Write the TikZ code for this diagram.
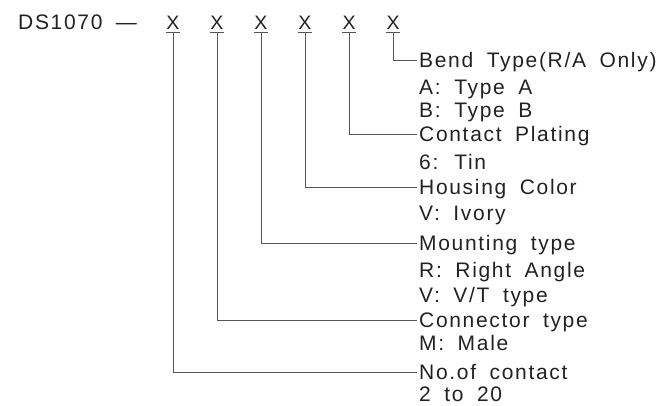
\documentclass[tikz,border=0pt]{standalone}
\usepackage{fontspec}
\newfontfamily\cadfont[LetterSpace=8,WordSpace=1.8]{Liberation Sans}
\newfontfamily\markfont{Liberation Sans}
\usetikzlibrary{positioning}
\definecolor{leadgray}{HTML}{555555}
\definecolor{inkgray}{HTML}{222222}

\begin{document}
\begin{tikzpicture}[x=1pt, y=-1pt,
  title/.style={anchor=west, inner xsep=2pt, inner ysep=0pt, text height=15pt, text depth=0pt, font=\cadfont\fontsize{21}{22}\selectfont, text=inkgray},
  opt/.style={title},
  digit/.style={inner xsep=0.5pt, inner ysep=2.5pt, text height=15pt, text depth=0pt, font=\markfont\fontsize{19.5}{20}\selectfont, text=inkgray},
  lead/.style={draw=leadgray, line width=0.9pt}
]
  \useasboundingbox (0,0) rectangle (664,406);

  % Part number
  \node[title, inner xsep=0pt] (part) at (18,22) {DS1070 —};

  % Code positions
  \node[digit] (contacts) at (173,22) {X};
  \node[digit] (conn) at (217,22) {X};
  \node[digit] (mount) at (261,22) {X};
  \node[digit] (housing) at (305,22) {X};
  \node[digit] (plating) at (349,22) {X};
  \node[digit] (bend) at (393,22) {X};

  % Descriptions
  \node[title] (bendT) at (417,60) {Bend Type(R/A Only)};
  \node[opt] (bendA) at (417,87) {A: Type A};
  \node[opt] (bendB) at (417,110) {B: Type B};
  \node[title] (platingT) at (417,134) {Contact Plating};
  \node[opt] (platingA) at (417,162) {6: Tin};
  \node[title] (housingT) at (417,187) {Housing Color};
  \node[opt] (housingA) at (417,213) {V: Ivory};
  \node[title] (mountT) at (417,243) {Mounting type};
  \node[opt] (mountA) at (417,270) {R: Right Angle};
  \node[opt] (mountB) at (417,295) {V: V/T type};
  \node[title] (connT) at (417,320) {Connector type};
  \node[opt] (connA) at (417,343) {M: Male};
  \node[title] (contactsT) at (417,372) {No.of contact};
  \node[opt] (contactsA) at (417,394) {2 to 20};

  % Underlines
  \draw[lead] (contacts.south west) -- (contacts.south east);
  \draw[lead] (conn.south west) -- (conn.south east);
  \draw[lead] (mount.south west) -- (mount.south east);
  \draw[lead] (housing.south west) -- (housing.south east);
  \draw[lead] (plating.south west) -- (plating.south east);
  \draw[lead] (bend.south west) -- (bend.south east);

  % Leaders
  \draw[lead] (bend.south) |- (bendT.west);
  \draw[lead] (plating.south) |- (platingT.west);
  \draw[lead] (housing.south) |- (housingT.west);
  \draw[lead] (mount.south) |- (mountT.west);
  \draw[lead] (conn.south) |- (connT.west);
  \draw[lead] (contacts.south) |- (contactsT.west);
\end{tikzpicture}
\end{document}
